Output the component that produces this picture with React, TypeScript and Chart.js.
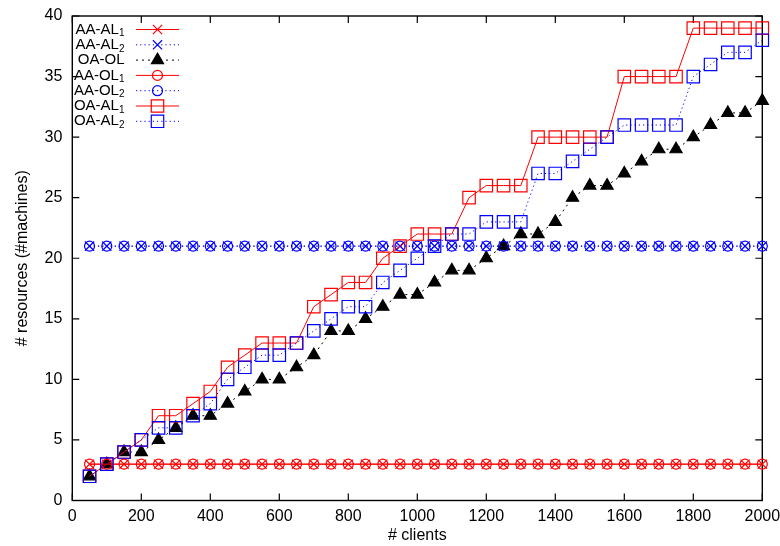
import React, { useEffect, useRef } from 'react';
import { Chart, registerables } from 'chart.js';
import { drawPoint } from 'chart.js/helpers';

Chart.register(...registerables);

const clients = [50, 100, 150, 200, 250, 300, 350, 400, 450, 500, 550, 600, 650, 700, 750, 800, 850, 900, 950, 1000, 1050, 1100, 1150, 1200, 1250, 1300, 1350, 1400, 1450, 1500, 1550, 1600, 1650, 1700, 1750, 1800, 1850, 1900, 1950, 2000];

const aaAl1 = [3, 3, 3, 3, 3, 3, 3, 3, 3, 3, 3, 3, 3, 3, 3, 3, 3, 3, 3, 3, 3, 3, 3, 3, 3, 3, 3, 3, 3, 3, 3, 3, 3, 3, 3, 3, 3, 3, 3, 3];
const aaAl2 = [21, 21, 21, 21, 21, 21, 21, 21, 21, 21, 21, 21, 21, 21, 21, 21, 21, 21, 21, 21, 21, 21, 21, 21, 21, 21, 21, 21, 21, 21, 21, 21, 21, 21, 21, 21, 21, 21, 21, 21];
const oaOl = [2, 3, 4, 4, 5, 6, 7, 7, 8, 9, 10, 10, 11, 12, 14, 14, 15, 16, 17, 17, 18, 19, 19, 20, 21, 22, 22, 23, 25, 26, 26, 27, 28, 29, 29, 30, 31, 32, 32, 33];
const aaOl1 = [3, 3, 3, 3, 3, 3, 3, 3, 3, 3, 3, 3, 3, 3, 3, 3, 3, 3, 3, 3, 3, 3, 3, 3, 3, 3, 3, 3, 3, 3, 3, 3, 3, 3, 3, 3, 3, 3, 3, 3];
const aaOl2 = [21, 21, 21, 21, 21, 21, 21, 21, 21, 21, 21, 21, 21, 21, 21, 21, 21, 21, 21, 21, 21, 21, 21, 21, 21, 21, 21, 21, 21, 21, 21, 21, 21, 21, 21, 21, 21, 21, 21, 21];
const oaAl1 = [2, 3, 4, 5, 7, 7, 8, 9, 11, 12, 13, 13, 13, 16, 17, 18, 18, 20, 21, 22, 22, 22, 25, 26, 26, 26, 30, 30, 30, 30, 30, 35, 35, 35, 35, 39, 39, 39, 39, 39];
const oaAl2 = [2, 3, 4, 5, 6, 6, 7, 8, 10, 11, 12, 12, 13, 14, 15, 16, 16, 18, 19, 20, 21, 22, 22, 23, 23, 23, 27, 27, 28, 29, 30, 31, 31, 31, 31, 35, 36, 37, 37, 38];

const seriesNames = ['AA-AL', 'AA-AL', 'OA-OL', 'AA-OL', 'AA-OL', 'OA-AL', 'OA-AL'];
const seriesSubs = ['1', '2', '', '1', '2', '1', '2'];
const seriesValues = [aaAl1, aaAl2, oaOl, aaOl1, aaOl2, oaAl1, oaAl2];

const xTitle = '# clients';
const yTitle = '# resources (#machines)';

const RED = '#ff0000';
const BLUE = '#0000ff';
const BLACK = '#000000';
const FONT = "'Liberation Sans', Arial, Helvetica, sans-serif";
const FS = 16;
const LFS = 15;

const styles = [
  { color: RED, dash: [], point: 'crossRot', radius: 6.5, fill: 'rgba(0,0,0,0)' },
  { color: BLUE, dash: [1.2, 3], point: 'crossRot', radius: 6.5, fill: 'rgba(0,0,0,0)' },
  { color: BLACK, dash: [2, 4], point: 'triangle', radius: 7, fill: BLACK },
  { color: RED, dash: [], point: 'circle', radius: 5, fill: 'rgba(0,0,0,0)' },
  { color: BLUE, dash: [1.2, 3], point: 'circle', radius: 5, fill: 'rgba(0,0,0,0)' },
  { color: RED, dash: [], point: 'rect', radius: 8.8, fill: 'rgba(0,0,0,0)' },
  { color: BLUE, dash: [1.2, 3], point: 'rect', radius: 8.8, fill: 'rgba(0,0,0,0)' },
];

const framePlugin = {
  id: 'gnuFrame',
  beforeDatasetsDraw(chart: any) {
    const { ctx, chartArea } = chart;
    const { left, right, top, bottom } = chartArea;
    const xs = chart.scales.x;
    const ys = chart.scales.y;
    const tl = 7;
    ctx.save();
    ctx.strokeStyle = BLACK;
    ctx.lineWidth = 1.2;
    ctx.setLineDash([]);
    ctx.beginPath();
    xs.ticks.forEach((t: any) => {
      const px = xs.getPixelForValue(t.value);
      ctx.moveTo(px, bottom);
      ctx.lineTo(px, bottom - tl);
      ctx.moveTo(px, top);
      ctx.lineTo(px, top + tl);
    });
    ys.ticks.forEach((t: any) => {
      const py = ys.getPixelForValue(t.value);
      ctx.moveTo(left, py);
      ctx.lineTo(left + tl, py);
      ctx.moveTo(right, py);
      ctx.lineTo(right - tl, py);
    });
    ctx.stroke();
    ctx.lineWidth = 1.4;
    ctx.strokeRect(left, top, right - left, bottom - top);
    ctx.restore();
  },
};

const legendPlugin = {
  id: 'gnuLegend',
  afterDatasetsDraw(chart: any) {
    const { ctx } = chart;
    const textRight = 124.5;
    const lineStart = 136;
    const lineEnd = 179;
    const markX = 157.5;
    ctx.save();
    seriesNames.forEach((name, i) => {
      const y = 29.5 + i * 15.3;
      const st = styles[i];
      ctx.fillStyle = BLACK;
      ctx.textBaseline = 'middle';
      ctx.textAlign = 'left';
      ctx.font = `${LFS}px ${FONT}`;
      const w1 = ctx.measureText(name).width;
      ctx.font = `10px ${FONT}`;
      const w2 = seriesSubs[i] ? ctx.measureText(seriesSubs[i]).width : 0;
      const x0 = textRight - w1 - w2;
      ctx.font = `${LFS}px ${FONT}`;
      ctx.fillText(name, x0, y);
      if (seriesSubs[i]) {
        ctx.font = `10px ${FONT}`;
        ctx.fillText(seriesSubs[i], x0 + w1, y + 4);
      }
      ctx.strokeStyle = st.color;
      ctx.lineWidth = 1;
      ctx.setLineDash(st.dash);
      ctx.beginPath();
      ctx.moveTo(lineStart, y);
      ctx.lineTo(lineEnd, y);
      ctx.stroke();
      ctx.setLineDash([]);
      ctx.lineWidth = 1.2;
      ctx.fillStyle = st.fill;
      drawPoint(ctx, { pointStyle: st.point, radius: st.radius, rotation: 0, borderWidth: 1.2 } as any, markX, y);
    });
    ctx.restore();
  },
};

export default function App() {
  const canvasRef = useRef<HTMLCanvasElement | null>(null);

  useEffect(() => {
    document.body.style.margin = '0';
    const canvas = canvasRef.current;
    if (!canvas) return;
    Chart.defaults.font.family = FONT;
    Chart.defaults.font.size = FS;
    Chart.defaults.color = BLACK;

    const datasets = seriesValues.map((vals, i) => {
      const st = styles[i];
      return {
        label: seriesNames[i] + seriesSubs[i],
        data: vals.map((v, j) => ({ x: clients[j], y: v })),
        borderColor: st.color,
        backgroundColor: st.fill,
        borderWidth: 1,
        borderDash: st.dash,
        pointStyle: st.point,
        pointRadius: st.radius,
        pointBorderColor: st.color,
        pointBackgroundColor: st.fill,
        pointBorderWidth: 1.2,
        tension: 0,
        fill: false,
        clip: false,
        order: 6 - i,
      };
    });

    const chart = new Chart(canvas, {
      type: 'line',
      data: { datasets } as any,
      options: {
        responsive: false,
        animation: false,
        events: [],
        devicePixelRatio: 1,
        layout: { padding: { left: 0, right: 17.7, top: 16, bottom: 0 } },
        plugins: {
          legend: { display: false },
          tooltip: { enabled: false },
        },
        scales: {
          x: {
            type: 'linear',
            min: 0,
            max: 2000,
            ticks: {
              stepSize: 200,
              padding: 6,
              font: { size: FS },
              color: BLACK,
              maxRotation: 0,
              autoSkip: false,
              callback: (v: any) => String(v),
            },
            grid: { display: false, drawTicks: false },
            border: { display: false },
            title: { display: true, text: xTitle, font: { size: FS }, color: BLACK, padding: { top: 0, bottom: 1 } },
            afterFit: (s: any) => { s.height = 45.5; s.paddingLeft = 0; s.paddingRight = 0; },
          },
          y: {
            type: 'linear',
            min: 0,
            max: 40,
            ticks: { stepSize: 5, padding: 10, font: { size: FS }, color: BLACK, callback: (v: any) => String(v) },
            grid: { display: false, drawTicks: false },
            border: { display: false },
            title: { display: true, text: yTitle, font: { size: FS }, color: BLACK, padding: { top: 13, bottom: 0 } },
            afterFit: (s: any) => { s.width = 72.3; s.paddingTop = 0; s.paddingBottom = 0; },
          },
        },
      } as any,
      plugins: [framePlugin, legendPlugin],
    });
    return () => chart.destroy();
  }, []);

  return (
    <div style={{ width: 780, height: 546, position: 'relative', background: '#fff' }}>
      <canvas ref={canvasRef} width={780} height={546} style={{ display: 'block' }} />
    </div>
  );
}
